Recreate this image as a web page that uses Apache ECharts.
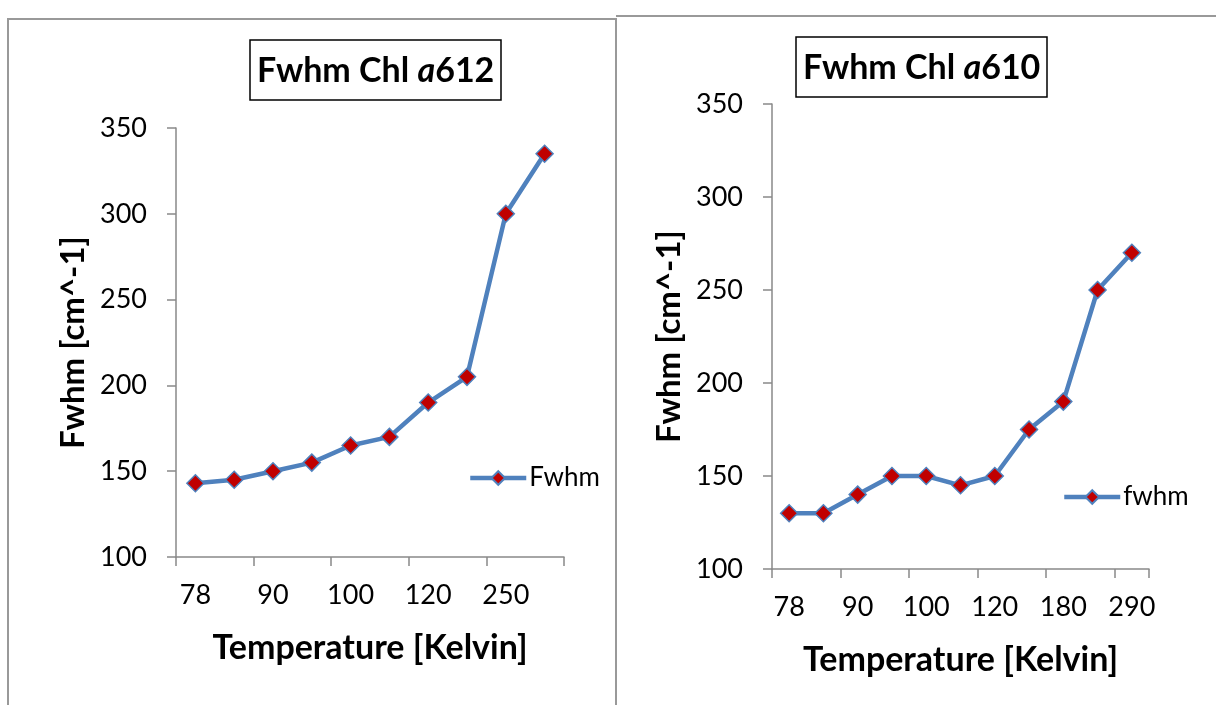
<!DOCTYPE html>
<html>
<head>
<meta charset="utf-8">
<script src="https://cdn.jsdelivr.net/npm/echarts@6/dist/echarts.min.js"></script>
<style>
  html, body { margin: 0; padding: 0; background: #fff; }
  #main { width: 1216px; height: 705px; }
</style>
</head>
<body>
<div id="main"></div>
<script>
// left panel: Chl a612
var tempA612 = ["78", "80", "90", "95", "100", "110", "120", "180", "250", "290"];
var fwhmA612 = [143, 145, 150, 155, 165, 170, 190, 205, 300, 335];
// right panel: Chl a610
var tempA610 = ["78", "80", "90", "95", "100", "110", "120", "150", "180", "250", "290"];
var fwhmA610 = [130, 130, 140, 150, 150, 145, 150, 175, 190, 250, 270];

var fontName = "Lato";
var axisGray = "#898989";

var myChart = echarts.init(document.getElementById("main"));

function makeTitle(num, left, top) {
  return {
    text: "{b|Fwhm Chl }{i|a}{b|" + num + "}",
    left: left,
    top: top,
    borderColor: "#000",
    borderWidth: 1.5,
    padding: [14, 7, 12, 7],
    textStyle: {
      rich: {
        b: { fontFamily: fontName, fontWeight: "bold", fontSize: 34, color: "#000", lineHeight: 40 },
        i: { fontFamily: fontName, fontWeight: "bold", fontStyle: "italic", fontSize: 34, color: "#000", lineHeight: 40 }
      }
    }
  };
}

function makeX(idx, cats) {
  return {
    type: "category",
    gridIndex: idx,
    data: cats,
    boundaryGap: true,
    name: "Temperature [Kelvin]",
    nameLocation: "middle",
    nameGap: 74,
    nameTextStyle: { fontFamily: fontName, fontWeight: "bold", fontSize: 34, color: "#000" },
    axisLine: { lineStyle: { color: axisGray, width: 1.5 } },
    axisTick: { show: true, length: 9, lineStyle: { color: axisGray, width: 1.5 } },
    axisLabel: { interval: 1, margin: 25, fontFamily: fontName, fontSize: 27, color: "#000" },
    splitLine: { show: false }
  };
}

function makeY(idx) {
  return {
    type: "value",
    gridIndex: idx,
    min: 100,
    max: 350,
    interval: 50,
    name: "Fwhm [cm^-1]",
    nameLocation: "middle",
    nameGap: 86,
    nameTextStyle: { fontFamily: fontName, fontWeight: "bold", fontSize: 33, color: "#000" },
    axisLine: { show: true, lineStyle: { color: axisGray, width: 1.5 } },
    axisTick: { show: true, length: 9, lineStyle: { color: axisGray, width: 1.5 } },
    axisLabel: { margin: 29, fontFamily: fontName, fontSize: 27, color: "#000" },
    splitLine: { show: false }
  };
}

function makeSeries(name, idx, values) {
  return {
    name: name,
    type: "line",
    xAxisIndex: idx,
    yAxisIndex: idx,
    data: values,
    symbol: "diamond",
    symbolSize: 17,
    lineStyle: { color: "#4F81BD", width: 4.5 },
    itemStyle: { color: "#C00000", borderColor: "#4F81BD", borderWidth: 1.5 },
    emphasis: { disabled: true }
  };
}

function makeLegend(name, left, top) {
  return {
    data: [name],
    left: left,
    top: top,
    itemWidth: 56,
    itemHeight: 17,
    itemGap: 4,
    lineStyle: { width: 4.5 },
    textStyle: { fontFamily: fontName, fontSize: 26, color: "#000", padding: [0, 0, 0, -2] }
  };
}

var option = {
  animation: false,
  backgroundColor: "#fff",
  title: [makeTitle("612", 250, 37), makeTitle("610", 796, 34)],
  legend: [makeLegend("Fwhm", 463, 460), makeLegend("fwhm", 1057, 479)],
  grid: [
    { left: 176, top: 128, width: 388, height: 429 },
    { left: 772, top: 104, width: 377, height: 465 }
  ],
  xAxis: [makeX(0, tempA612), makeX(1, tempA610)],
  yAxis: [makeY(0), makeY(1)],
  series: [makeSeries("Fwhm", 0, fwhmA612), makeSeries("fwhm", 1, fwhmA610)],
  graphic: [
    {
      type: "polyline",
      shape: { points: [[8, 705], [8, 19], [616, 19], [616, 705]] },
      style: { fill: null, stroke: "#999", lineWidth: 2 },
      silent: true
    },
    {
      type: "polyline",
      shape: { points: [[616, 16], [1216, 16]] },
      style: { fill: null, stroke: "#999", lineWidth: 2 },
      silent: true
    }
  ]
};

myChart.setOption(option);
</script>
</body>
</html>
